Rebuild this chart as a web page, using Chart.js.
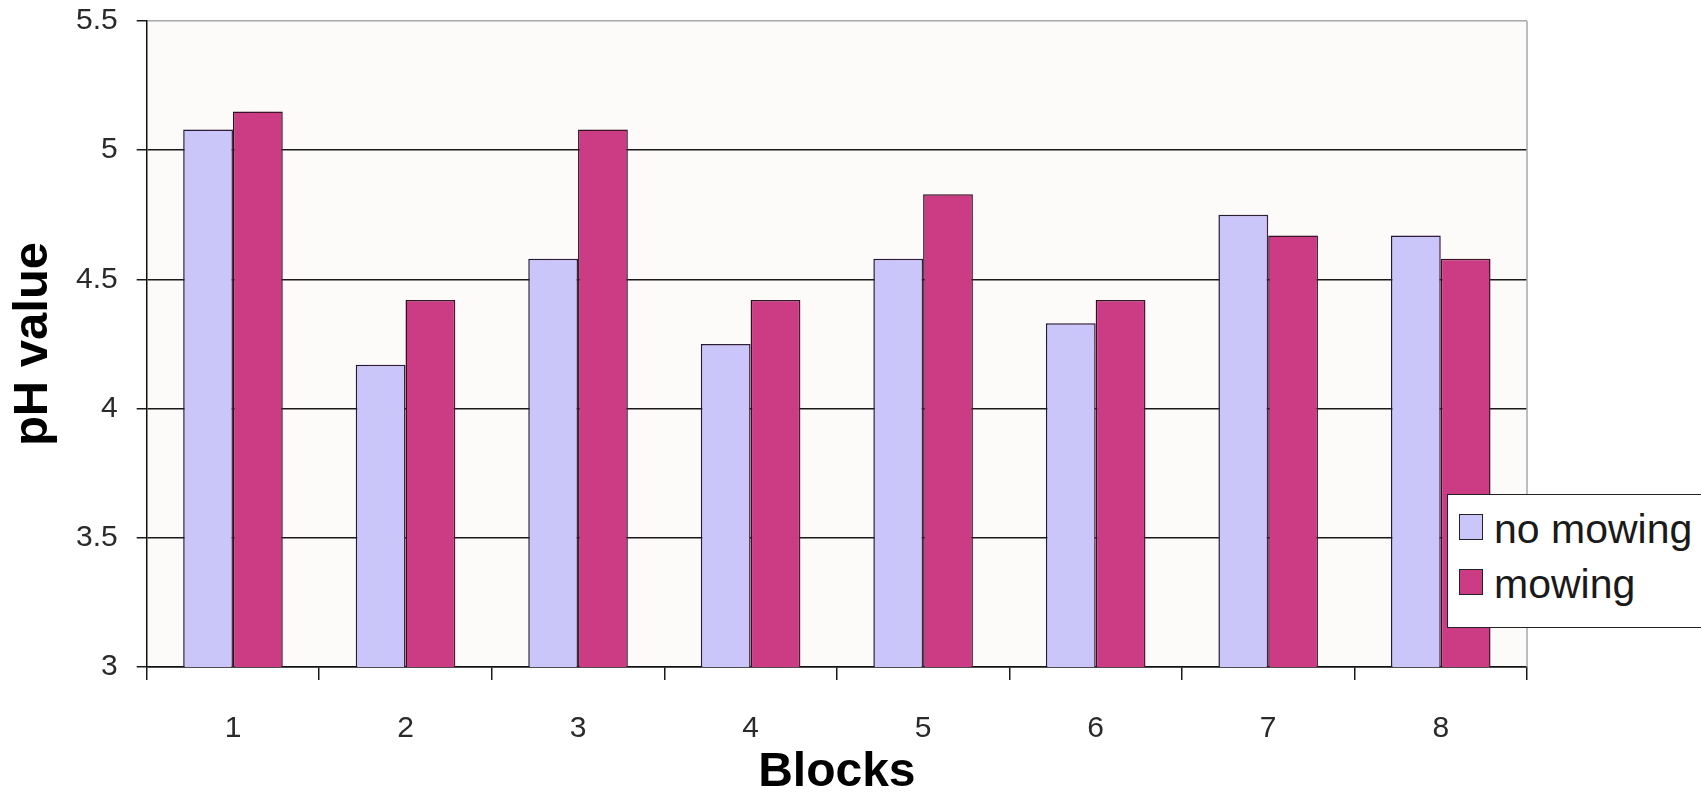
<!DOCTYPE html>
<html>
<head>
<meta charset="utf-8">
<script src="https://cdn.jsdelivr.net/npm/chart.js@4/dist/chart.umd.min.js"></script>
<style>
  html, body { margin: 0; padding: 0; background: #fff; }
  #wrap { position: relative; width: 1701px; height: 800px; overflow: hidden; }
  #legend {
    position: absolute; left: 1447px; top: 494px; width: 300px; height: 134px;
    box-sizing: border-box; border: 1.5px solid #222; background: #fff;
    padding-top: 4px; font-family: "Liberation Sans", Arial, sans-serif;
    font-size: 41px; color: #1a1a1a;
  }
  .row { display: flex; align-items: center; height: 55px; }
  .sw { width: 22px; height: 24px; border: 1.5px solid #222; margin: 0 11px 0 11px; }
  .row span { position: relative; top: 3px; }
</style>
</head>
<body>
<div id="wrap">
  <canvas id="phChart" width="1701" height="800"></canvas>
  <div id="legend"></div>
</div>
<script>
const blocks = ['1', '2', '3', '4', '5', '6', '7', '8'];
const noMowing = [5.08, 4.17, 4.58, 4.25, 4.58, 4.33, 4.75, 4.67];
const mowing = [5.15, 4.42, 5.08, 4.42, 4.83, 4.42, 4.67, 4.58];
const yTickValues = [3, 3.5, 4, 4.5, 5, 5.5];

Chart.defaults.font.family = '"Liberation Sans", Arial, sans-serif';

// plot area background, right frame line and bar glow
const plotFrame = {
  id: 'plotFrame',
  beforeDraw(chart) {
    const { ctx, chartArea: a } = chart;
    ctx.save();
    ctx.fillStyle = '#fdfbf9';
    ctx.fillRect(a.left, a.top, a.right - a.left, a.bottom - a.top);
    ctx.restore();
  },
  beforeDatasetsDraw(chart) {
    const { ctx, chartArea: a } = chart;
    ctx.save();
    ctx.strokeStyle = '#a8a8a8';
    ctx.lineWidth = 1.5;
    ctx.beginPath();
    ctx.moveTo(a.right, a.top);
    ctx.lineTo(a.right, a.bottom);
    ctx.stroke();
    ctx.restore();
    ctx.save();
    ctx.shadowColor = 'rgba(215, 70, 125, 0.25)';
    ctx.shadowBlur = 18;
    ctx.shadowOffsetX = 10;
  },
  afterDatasetsDraw(chart) {
    chart.ctx.restore();
  }
};

const chart = new Chart(document.getElementById('phChart'), {
  type: 'bar',
  data: {
    labels: blocks,
    datasets: [
      { label: 'no mowing', data: noMowing, backgroundColor: '#cbc6fa', borderColor: '#1e1a33', borderWidth: 1.5 },
      { label: 'mowing', data: mowing, backgroundColor: '#cc3c84', borderColor: '#2a1020', borderWidth: 1.5 }
    ]
  },
  options: {
    responsive: false,
    devicePixelRatio: 1,
    animation: false,
    layout: { padding: { top: 21, right: 174, left: 0, bottom: 0 } },
    datasets: { bar: { categoryPercentage: 0.577, barPercentage: 1.0 } },
    plugins: { legend: { display: false }, tooltip: { enabled: false } },
    scales: {
      x: {
        grid: { offset: true, drawOnChartArea: false, tickLength: 13, color: '#1a1a1a', lineWidth: 1.5 },
        border: { color: '#111', width: 1.5 },
        ticks: { font: { size: 30 }, color: '#2a2a2a', padding: 31 },
        title: { display: true, text: 'Blocks', color: '#000', font: { size: 48, weight: 'bold', lineHeight: 1 }, padding: { top: 0, bottom: 3 } },
        afterFit(scale) { scale.height = 133; }
      },
      y: {
        min: 3,
        max: 5.5,
        afterBuildTicks(scale) { scale.ticks = yTickValues.map(v => ({ value: v })); },
        grid: {
          color: ctx => (ctx.tick && ctx.tick.value === 5.5 ? '#a8a8a8' : '#1a1a1a'),
          tickColor: '#1a1a1a',
          lineWidth: 1.5,
          tickLength: 10
        },
        border: { color: '#111', width: 1.5 },
        ticks: { font: { size: 30 }, color: '#2a2a2a', padding: 19, callback: v => String(v) },
        title: { display: true, text: 'pH value', color: '#000', font: { size: 49, weight: 'bold', lineHeight: 1 }, padding: { top: 9, bottom: 0 } },
        afterFit(scale) {
          scale.width = 146.7;
          scale.paddingTop = 0;
          scale.paddingBottom = 0;
        }
      }
    }
  },
  plugins: [plotFrame]
});

// legend built from the chart's datasets
document.getElementById('legend').innerHTML = chart.data.datasets.map(ds =>
  `<div class="row"><div class="sw" style="background:${ds.backgroundColor}"></div><span>${ds.label}</span></div>`
).join('');
</script>
</body>
</html>
